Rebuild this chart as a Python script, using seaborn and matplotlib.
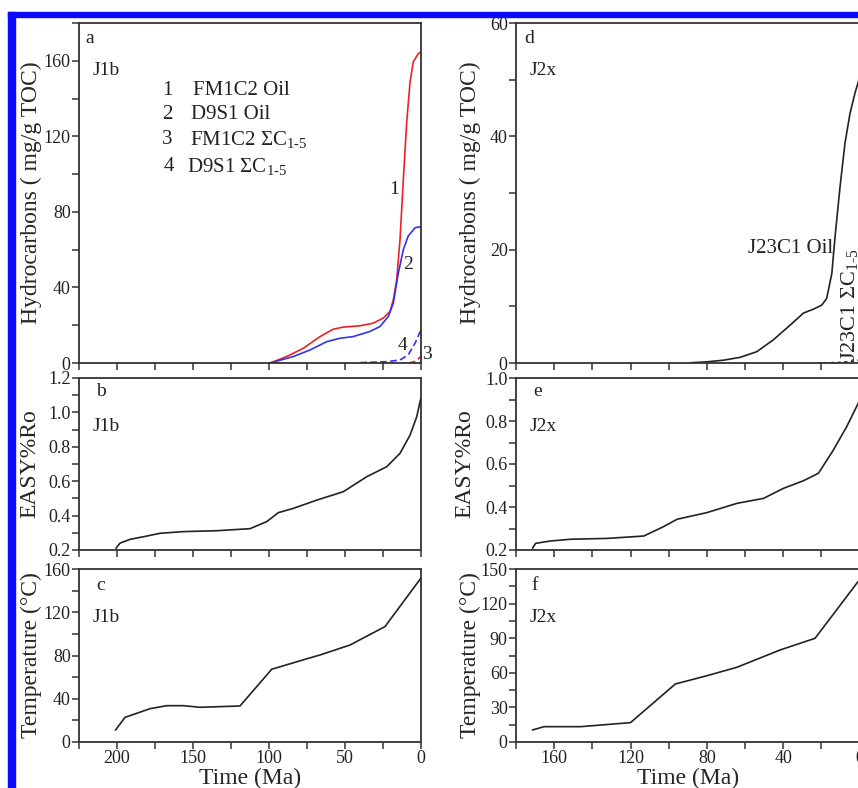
import numpy as np
import pandas as pd
import matplotlib
matplotlib.use("Agg")
import matplotlib.pyplot as plt
from matplotlib.patches import Rectangle
from matplotlib.ticker import MultipleLocator, FormatStrFormatter
import seaborn as sns

# ---------------- data ----------------
# Panel a (J1b hydrocarbons, mg/g TOC)
a_oil1_t = [100, 99.3, 88.4, 77.4, 66.4, 57.7, 51.1, 40.1, 31.4, 24.8, 20.4, 18.2, 16, 13.8,
            11.6, 9.4, 7.2, 5.1, 1.8, 0]
a_oil1_v = [0, 0, 3.4, 7.8, 14, 17.9, 19, 19.7, 21.1, 23.8, 27.3, 33.5, 44, 65.4,
            97.3, 127.5, 148.8, 159.4, 163.8, 164.7]
a_oil2_t = [100, 99.3, 84, 73, 62, 53.3, 44.5, 33.6, 27, 21.5, 18.2, 14.9, 11.6, 8.4, 3.9, 0]
a_oil2_v = [0, 0, 3.4, 6.9, 11.3, 13.1, 14, 16.7, 19.3, 24.6, 31.7, 47.7, 60.1, 67.2, 71.6, 72.2]
a_gas1_t = [8, 4, 2, 0]
a_gas1_v = [0, 0.8, 2, 3.6]
a_gas2_t = [40, 22.6, 13.8, 8.4, 3.9, 0]
a_gas2_v = [0.2, 0.7, 1.6, 4.3, 10.5, 17.6]

# Panel b (J1b EASY%Ro)
b_t = [200.7, 198, 191.4, 182.7, 171.7, 156.4, 134.4, 112.5, 101.5, 93.9, 84, 68.6,
       51.1, 35.7, 22.6, 13.8, 7.2, 2.8, 0.2]
b_v = [0.21, 0.24, 0.262, 0.277, 0.297, 0.307, 0.312, 0.324, 0.365, 0.417, 0.442, 0.49,
       0.539, 0.626, 0.684, 0.762, 0.868, 0.975, 1.08]

# Panel c (J1b temperature)
c_t = [201, 194.7, 178.3, 167.3, 156.4, 145.4, 119.1, 98.2, 75, 66.4, 46.7, 23.7, 0.2]
c_v = [11, 22.8, 30.8, 33.6, 33.6, 32.1, 33.3, 67.3, 77, 80.5, 89.7, 106.7, 151.3]

# Panel d (J2x hydrocarbons)
d_oil_t = [88.6, 80, 71.2, 62.5, 53.8, 45.1, 36.3, 29.4, 24.2, 19.8, 17.2, 14.5, 12.8,
           10.2, 7.6, 5, 2.4, 0.8, 0]
d_oil_v = [0.05, 0.2, 0.5, 1.0, 2.0, 4.1, 6.7, 8.8, 9.5, 10.2, 11.4, 15.8, 22.3,
           31.1, 38.8, 44, 47.6, 49.4, 50.5]
d_gas_t = [22, 15, 10, 5, 0]
d_gas_v = [0, 0.05, 0.1, 0.25, 0.5]

# Panel e (J2x EASY%Ro)
e_t = [171.4, 169.7, 161.8, 151.4, 132.2, 113, 102.6, 95.6, 79.9, 64.2, 50.3, 39.8,
       29.4, 21.5, 13.7, 6.7, 0.8, 0]
e_v = [0.208, 0.231, 0.242, 0.25, 0.254, 0.265, 0.309, 0.343, 0.374, 0.417, 0.44, 0.487,
       0.522, 0.557, 0.665, 0.774, 0.88, 0.9]

# Panel f (J2x temperature)
f_t = [171.4, 165.3, 146.1, 120, 96.5, 79.9, 64.2, 41.6, 23.3, 0.8, 0]
f_v = [10.4, 13.3, 13.3, 16.8, 50.3, 57.5, 64.8, 79.8, 89.9, 139, 140]

legend_nums = ["1", "2", "3", "4"]
legend_names = ["FM1C2 Oil", "D9S1 Oil", r"FM1C2 $\Sigma$C$_{1\text{-}5}$", r"D9S1 $\Sigma$C$_{1\text{-}5}$"]

# ---------------- style ----------------
sns.set_style("ticks")
plt.rcParams["font.family"] = ["Liberation Serif", "DejaVu Serif"]
plt.rcParams["mathtext.fontset"] = "custom"
plt.rcParams["mathtext.rm"] = "Liberation Serif"
plt.rcParams["mathtext.it"] = "Liberation Serif"
plt.rcParams["mathtext.default"] = "regular"
plt.rcParams["axes.edgecolor"] = "#333333"
plt.rcParams["axes.linewidth"] = 1.3
plt.rcParams["xtick.color"] = "#333333"
plt.rcParams["ytick.color"] = "#333333"
plt.rcParams["xtick.labelcolor"] = "#222222"
plt.rcParams["ytick.labelcolor"] = "#222222"

W, H = 858, 788
fig = plt.figure(figsize=(W / 100, H / 100), dpi=100)


def add_ax(x0, x1, ytop, ybot):
    return fig.add_axes([x0 / W, 1 - ybot / H, (x1 - x0) / W, (ybot - ytop) / H])


rows = [(23, 363), (378, 550), (569, 742)]
L = (79, 421)
R = (516, 859.5)

axes = {}
for key, (x0, x1), (yt, yb) in [("a", L, rows[0]), ("b", L, rows[1]), ("c", L, rows[2]),
                                 ("d", R, rows[0]), ("e", R, rows[1]), ("f", R, rows[2])]:
    axes[key] = add_ax(x0, x1, yt, yb)

TICKFS = 13
LABFS = 17
black = "#222222"
lw = 1.2


def df(t, v):
    return pd.DataFrame({"t": t, "v": v})


# panel a
ax = axes["a"]
sns.lineplot(data=df(a_oil1_t, a_oil1_v), x="t", y="v", ax=ax, color="#ee2222", lw=lw, sort=False)
sns.lineplot(data=df(a_oil2_t, a_oil2_v), x="t", y="v", ax=ax, color="#3333ee", lw=lw, sort=False)
sns.lineplot(data=df(a_gas1_t, a_gas1_v), x="t", y="v", ax=ax, color="#ee2222", lw=lw, sort=False,
             linestyle=(0, (4, 2)))
sns.lineplot(data=df(a_gas2_t, a_gas2_v), x="t", y="v", ax=ax, color="#3333ee", lw=lw, sort=False,
             linestyle=(0, (4, 2)))
# panel b
sns.lineplot(data=df(b_t, b_v), x="t", y="v", ax=axes["b"], color=black, lw=lw, sort=False)
# panel c
sns.lineplot(data=df(c_t, c_v), x="t", y="v", ax=axes["c"], color=black, lw=lw, sort=False)
# panel d
sns.lineplot(data=df(d_oil_t, d_oil_v), x="t", y="v", ax=axes["d"], color=black, lw=lw, sort=False)
sns.lineplot(data=df(d_gas_t, d_gas_v), x="t", y="v", ax=axes["d"], color=black, lw=lw, sort=False,
             linestyle=(0, (2, 2)))
# panel e
sns.lineplot(data=df(e_t, e_v), x="t", y="v", ax=axes["e"], color=black, lw=lw, sort=False)
# panel f
sns.lineplot(data=df(f_t, f_v), x="t", y="v", ax=axes["f"], color=black, lw=lw, sort=False)

# limits & ticks
cfg = {
    "a": ((225, 0), (0, 180), 40, 20),
    "b": ((225, 0), (0.2, 1.2), 0.2, 0.1),
    "c": ((225, 0), (0, 160), 40, 20),
    "d": ((180, 0), (0, 60), 20, 10),
    "e": ((180, 0), (0.2, 1.0), 0.2, 0.1),
    "f": ((180, 0), (0, 150), 30, 15),
}
for k, (xl, yl, ymaj, ymin) in cfg.items():
    ax = axes[k]
    ax.set_xlim(*xl)
    ax.set_ylim(*yl)
    left = k in "abc"
    ax.xaxis.set_major_locator(MultipleLocator(50 if left else 40))
    ax.xaxis.set_minor_locator(MultipleLocator(25 if left else 20))
    ax.yaxis.set_major_locator(MultipleLocator(ymaj))
    ax.yaxis.set_minor_locator(MultipleLocator(ymin))
    ax.tick_params(which="both", direction="out", length=5, width=1.1, labelsize=TICKFS, pad=1)
    for s in ax.spines.values():
        s.set_visible(True)
    ax.set_xlabel("")
    if k in "be":
        ax.yaxis.set_major_formatter(FormatStrFormatter("%.1f"))
    if k not in "cf":
        ax.set_xticklabels([])
    else:
        ax.set_xlabel("Time (Ma)", fontsize=LABFS)
        ax.xaxis.set_label_coords(0.5, -(778 - 742) / (742 - 569))
        ax.xaxis.label.set_va("center")

ylabels = {"a": ("Hydrocarbons ( mg/g TOC)", 31), "b": ("EASY%Ro", 30), "c": ("Temperature (°C)", 31),
           "d": ("Hydrocarbons ( mg/g TOC)", 470), "e": ("EASY%Ro", 465), "f": ("Temperature (°C)", 470)}
for k, (lab, xc) in ylabels.items():
    ax = axes[k]
    ax.set_ylabel(lab, fontsize=LABFS)
    x0 = L[0] if k in "abc" else R[0]
    width = (L[1] - L[0]) if k in "abc" else (R[1] - R[0])
    ax.yaxis.set_label_coords((xc - x0) / width, 0.5)
    ax.yaxis.label.set_va("center")
    ax.yaxis.label.set_ha("center")

# panel letters and unit names
letter_pos = {"a": (0.032, 0.955), "b": (0.064, 0.919), "c": (0.064, 0.907),
              "d": (0.038, 0.955), "e": (0.063, 0.919), "f": (0.055, 0.907)}
for k, unit in [("a", "J1b"), ("b", "J1b"), ("c", "J1b"), ("d", "J2x"), ("e", "J2x"), ("f", "J2x")]:
    ax = axes[k]
    lx, ly = letter_pos[k]
    ax.text(lx, ly, k, transform=ax.transAxes, fontsize=14, va="center", ha="center", color=black)
    ax.text(0.04, 0.86 if k in "ad" else 0.72, unit, transform=ax.transAxes, fontsize=14,
            va="center", ha="left", color=black)

# panel a legend text
ax = axes["a"]
leg_y = [144.5, 131.5, 118.5, 104]
num_x = [167, 167, 167, 166]
name_x = [150, 151, 152, 154]
for n, nm, yy, nx, tx in zip(legend_nums, legend_names, leg_y, num_x, name_x):
    ax.text(nx, yy, n, fontsize=15, ha="center", va="center", color=black)
    ax.text(tx, yy, nm, fontsize=15, ha="left", va="center", color=black)
ax.text(17.5, 92, "1", fontsize=14, ha="center", va="center", color=black)
ax.text(8.5, 52, "2", fontsize=14, ha="center", va="center", color=black)
ax.text(12, 9, "4", fontsize=14, ha="center", va="center", color=black)
ax.text(-4, 4.3, "3", fontsize=14, ha="center", va="center", color=black, clip_on=False)

# panel d texts
ax = axes["d"]
ax.text(36.3, 20.2, "J23C1 Oil", fontsize=15, ha="center", va="center", color=black)
ax.text(5.4, 0.3, r"J23C1 $\Sigma$C$_{1\text{-}5}$", fontsize=16, ha="center", va="bottom",
        rotation=90, color=black)

# blue border
fig.patches.append(Rectangle((8 / W, 1 - 17 / H), 1 - 8 / W, 5 / H, transform=fig.transFigure,
                             color="#0a0aff", zorder=10))
fig.patches.append(Rectangle((8 / W, 0), 7 / W, 1 - 12 / H, transform=fig.transFigure,
                             color="#0a0aff", zorder=10))

fig.savefig("out.png", dpi=100)
